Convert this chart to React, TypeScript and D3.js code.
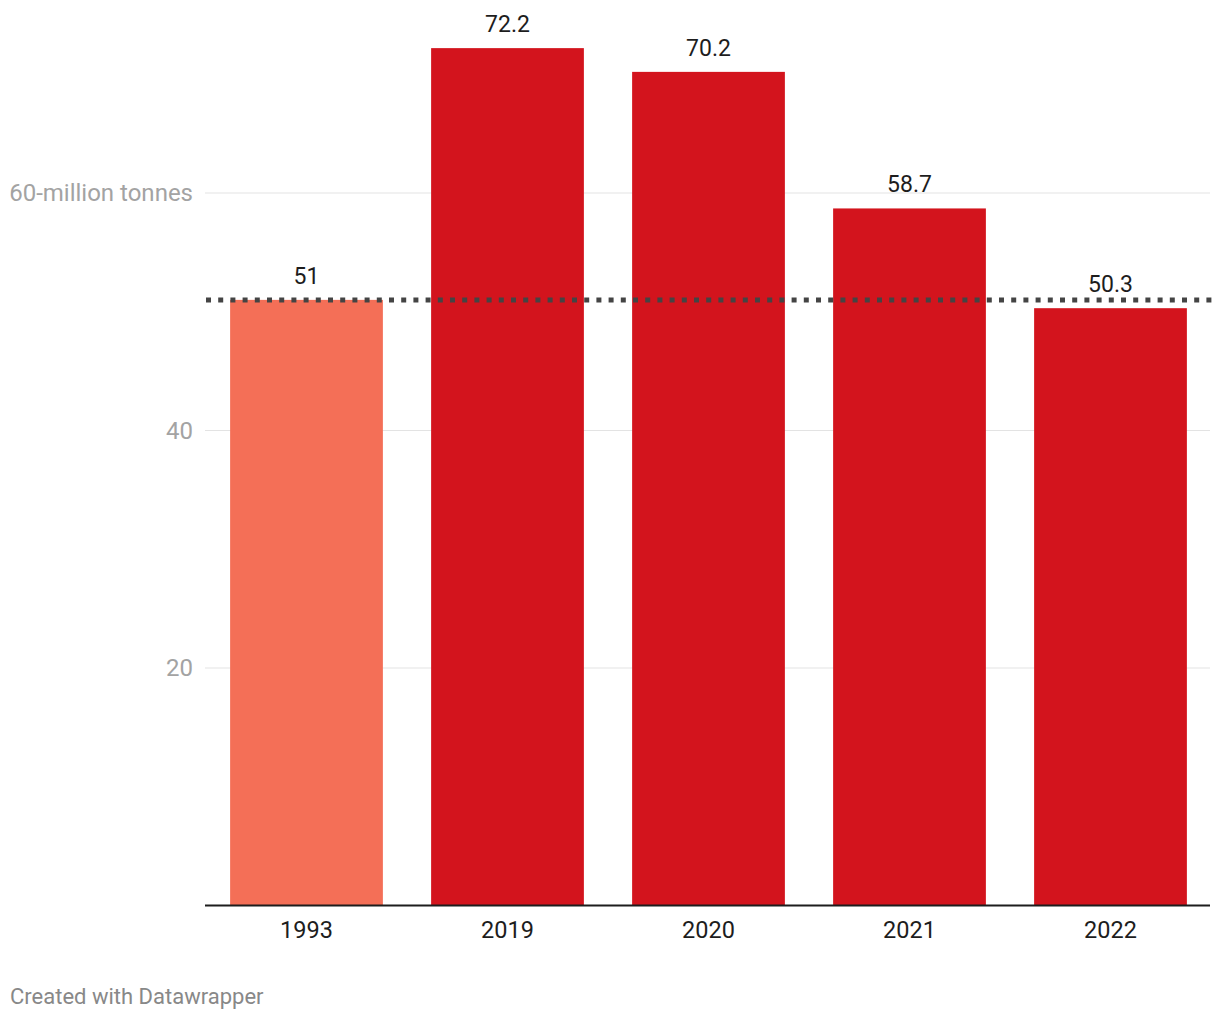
import * as d3 from "d3";

const years = ["1993", "2019", "2020", "2021", "2022"];
const values = [51, 72.2, 70.2, 58.7, 50.3];
const labels = ["51", "72.2", "70.2", "58.7", "50.3"];
const highlightYears = ["1993"];
const yTicks = [20, 40, 60];
const referenceValue = 51;

const width = 1220;
const height = 1020;
const plot = { left: 205, right: 1210, top: 0, bottom: 905.5 };
const font = "Roboto, 'Noto Sans', sans-serif";

function tickLabel(tick: number) {
  return tick === 60 ? "60-million tonnes" : String(tick);
}

export default function App() {
  const xScale = d3.scaleBand<string>().domain(years).range([plot.left + 1, plot.right + 1]).paddingInner(0.24).paddingOuter(0.12);
  const yScale = d3.scaleLinear().domain([0, 20]).range([plot.bottom, plot.bottom - 237.5]);

  return (
    <svg width={width} height={height} style={{ position: "absolute", left: 0, top: 0, background: "#fff" }} fontFamily={font}>
      {yTicks.map((tick) => (
        <g key={tick}>
          <line x1={plot.left} x2={plot.right} y1={yScale(tick)} y2={yScale(tick)} stroke="#e3e3e3" strokeWidth={1} />
          <text x={193} y={yScale(tick) + 8} textAnchor="end" fontSize={24} fill="#a3a3a3">{tickLabel(tick)}</text>
        </g>
      ))}

      {years.map((year, i) => (
        <rect
          key={year}
          x={xScale(year)}
          y={yScale(values[i])}
          width={xScale.bandwidth()}
          height={plot.bottom - yScale(values[i])}
          fill={highlightYears.includes(year) ? "#f46f57" : "#d3141d"}
        />
      ))}

      <line
        x1={plot.left + 1}
        x2={plot.right + 2}
        y1={yScale(referenceValue)}
        y2={yScale(referenceValue)}
        stroke="#444"
        strokeWidth={5}
        strokeDasharray="5 7.2"
      />

      {years.map((year, i) => (
        <text
          key={`v-${year}`}
          x={(xScale(year) ?? 0) + xScale.bandwidth() / 2}
          y={yScale(values[i]) - 16}
          textAnchor="middle"
          fontSize={23}
          fill="#1d1d1d"
        >
          {labels[i]}
        </text>
      ))}

      <line x1={plot.left} x2={plot.right} y1={plot.bottom} y2={plot.bottom} stroke="#1d1d1d" strokeWidth={2} />

      {years.map((year) => (
        <text key={`x-${year}`} x={(xScale(year) ?? 0) + xScale.bandwidth() / 2} y={938} textAnchor="middle" fontSize={23.5} fill="#1d1d1d">
          {year}
        </text>
      ))}

      <text x={10} y={1004} fontSize={22} fill="#888">Created with Datawrapper</text>
    </svg>
  );
}
